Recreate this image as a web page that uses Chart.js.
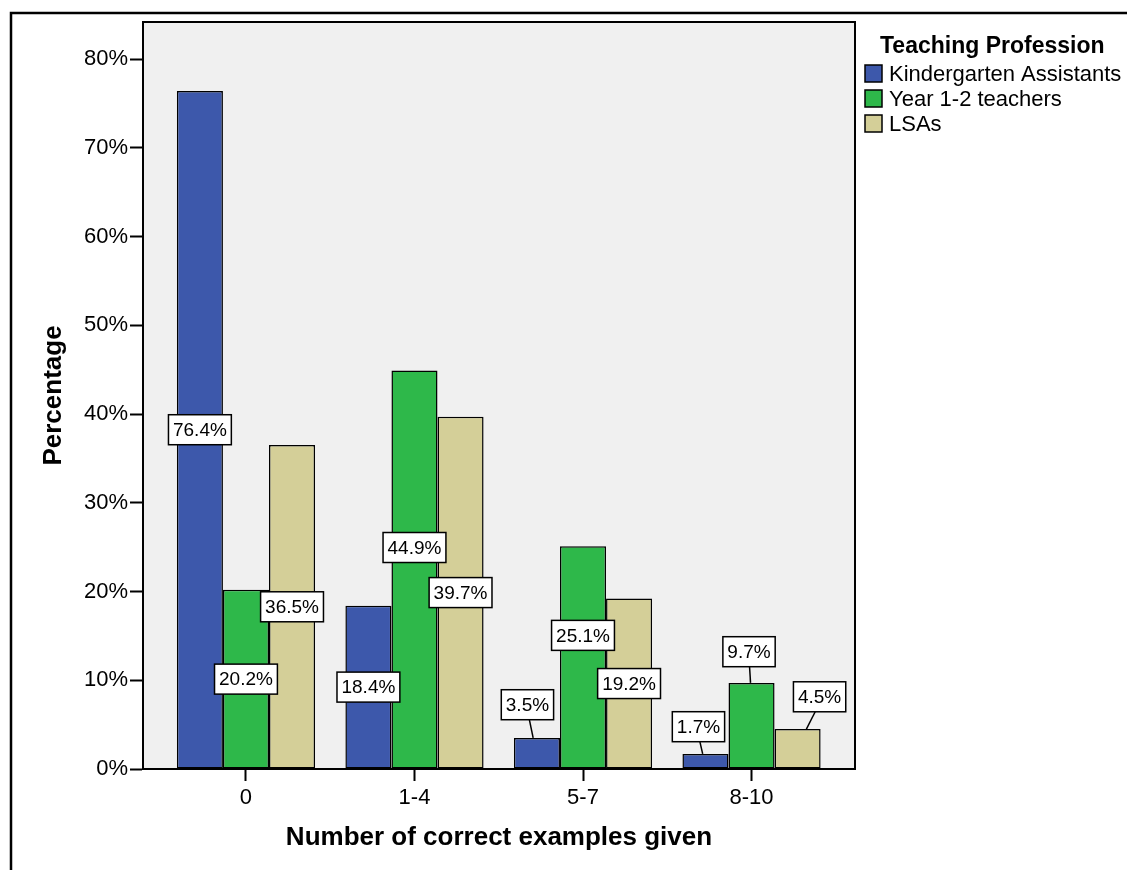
<!DOCTYPE html>
<html>
<head>
<meta charset="utf-8">
<script src="https://cdn.jsdelivr.net/npm/chart.js@4.4.1/dist/chart.umd.min.js"></script>
<style>
  html, body { margin: 0; padding: 0; background: #fff; }
  #wrap { width: 1127px; height: 870px; }
</style>
</head>
<body>
<div id="wrap"><canvas id="chart" width="1127" height="870"></canvas></div>
<script>
// data
const categories = ['0', '1-4', '5-7', '8-10'];
const seriesNames = ['Kindergarten Assistants', 'Year 1-2 teachers', 'LSAs'];
const kindergarten = [76.4, 18.4, 3.5, 1.7];
const year12 = [20.2, 44.9, 25.1, 9.7];
const lsas = [36.5, 39.7, 19.2, 4.5];
const yTicks = [0, 10, 20, 30, 40, 50, 60, 70, 80];

const FONT = "'Liberation Sans', Arial, sans-serif";
const colors = ['#3d58ab', '#2eb84a', '#d4cf98'];

const toPoints = arr => arr.map((v, i) => ({ x: i, y: v }));

// label nudges (px) for the labels SPSS moved off the bar middle; third item = leader line
const labelShift = {
  '0-2': [-9.5, -48.5, true],
  '0-3': [-7, -34.5, true],
  '1-3': [-2.5, -74, true],
  '2-3': [22, -52, true],
  '1-1': [0, -22, false],
  '1-2': [0, -22, false]
};

const sheet = {
  id: 'sheet',
  beforeDraw(chart) {
    const { ctx, chartArea: a } = chart;
    ctx.save();
    ctx.fillStyle = '#fff';
    ctx.fillRect(0, 0, chart.width, chart.height);
    // outer frame (cut by the picture edge)
    ctx.strokeStyle = '#000';
    ctx.lineWidth = 2.5;
    ctx.beginPath();
    ctx.moveTo(11, 870);
    ctx.lineTo(11, 13);
    ctx.lineTo(1127, 13);
    ctx.stroke();
    ctx.fillStyle = '#f0f0f0';
    ctx.fillRect(a.left, a.top, a.right - a.left, a.bottom - a.top);
    ctx.restore();
  },
  afterDatasetsDraw(chart) {
    const { ctx, chartArea: a } = chart;
    ctx.save();
    ctx.strokeStyle = '#000';
    ctx.lineWidth = 2;
    ctx.strokeRect(a.left, a.top, a.right - a.left, a.bottom - a.top);

    // value labels
    ctx.font = '19px ' + FONT;
    ctx.textAlign = 'center';
    ctx.textBaseline = 'middle';
    chart.data.datasets.forEach((ds, d) => {
      const meta = chart.getDatasetMeta(d);
      meta.data.forEach((bar, i) => {
        const s = labelShift[d + '-' + i] || [0, 0, false];
        const txt = ds.data[i].y.toFixed(1) + '%';
        const cx = bar.x + s[0];
        const cy = (bar.y + bar.base) / 2 + s[1];
        const w = ctx.measureText(txt).width + 9;
        const h = 30;
        if (s[2]) {
          ctx.lineWidth = 1.5;
          ctx.beginPath();
          ctx.moveTo(cx + (bar.x - cx) * 0.2, cy + h / 2);
          ctx.lineTo(cx + (bar.x - cx) * 0.6, bar.y);
          ctx.stroke();
        }
        ctx.fillStyle = '#fff';
        ctx.fillRect(cx - w / 2, cy - h / 2, w, h);
        ctx.lineWidth = 1.5;
        ctx.strokeRect(cx - w / 2, cy - h / 2, w, h);
        ctx.fillStyle = '#000';
        ctx.fillText(txt, cx, cy + 1);
      });
    });
    ctx.restore();
  },
  afterDraw(chart) {
    const { ctx, chartArea: a } = chart;
    ctx.save();
    ctx.fillStyle = '#000';
    // axis titles
    ctx.font = 'bold 26px ' + FONT;
    ctx.textAlign = 'center';
    ctx.textBaseline = 'middle';
    ctx.fillText('Number of correct examples given', (a.left + a.right) / 2, 838);
    ctx.translate(54, (a.top + a.bottom) / 2);
    ctx.rotate(-Math.PI / 2);
    ctx.fillText('Percentage', 0, 0);
    ctx.restore();

    // legend
    ctx.save();
    ctx.textBaseline = 'middle';
    ctx.textAlign = 'left';
    ctx.fillStyle = '#000';
    ctx.font = 'bold 23px ' + FONT;
    ctx.fillText('Teaching Profession', 880, 47);
    ctx.font = '22px ' + FONT;
    chart.data.datasets.forEach((ds, d) => {
      const y = 74 + d * 25;
      ctx.fillStyle = ds.backgroundColor;
      ctx.fillRect(865, y - 9, 17, 17);
      ctx.strokeStyle = '#000';
      ctx.lineWidth = 1.5;
      ctx.strokeRect(865, y - 9, 17, 17);
      ctx.fillStyle = '#000';
      ctx.fillText(ds.label, 889, y + 1);
    });
    ctx.restore();
  }
};

new Chart(document.getElementById('chart'), {
  type: 'bar',
  data: {
    datasets: [
      { label: seriesNames[0], data: toPoints(kindergarten), backgroundColor: colors[0] },
      { label: seriesNames[1], data: toPoints(year12), backgroundColor: colors[1] },
      { label: seriesNames[2], data: toPoints(lsas), backgroundColor: colors[2] }
    ]
  },
  options: {
    responsive: false,
    animation: false,
    layout: { padding: { top: 22, right: 272, left: 0, bottom: 0 } },
    datasets: {
      bar: {
        borderColor: '#000',
        borderWidth: 1.5,
        borderSkipped: false,
        categoryPercentage: 0.82,
        barPercentage: 1
      }
    },
    plugins: {
      legend: { display: false },
      tooltip: { enabled: false }
    },
    scales: {
      x: {
        type: 'linear',
        offset: false,
        min: -0.611,
        max: 3.614,
        afterBuildTicks: s => { s.ticks = categories.map((c, i) => ({ value: i })); },
        afterFit: s => { s.height = 101; },
        ticks: {
          callback: v => categories[v],
          color: '#000',
          font: { family: FONT, size: 22 },
          padding: 4,
          maxRotation: 0
        },
        grid: { offset: false, drawOnChartArea: false, drawTicks: true, tickLength: 12, tickColor: '#000', tickWidth: 2 },
        border: { display: true, color: '#000', width: 2 }
      },
      y: {
        min: 0,
        max: 84.17,
        afterBuildTicks: s => { s.ticks = yTicks.map(v => ({ value: v })); },
        afterFit: s => { s.width = 143; },
        ticks: {
          callback: v => v + '%',
          color: '#000',
          font: { family: FONT, size: 22 },
          padding: 2
        },
        grid: { drawOnChartArea: false, drawTicks: true, tickLength: 13, tickColor: '#000', tickWidth: 2 },
        border: { display: true, color: '#000', width: 2 }
      }
    }
  },
  plugins: [sheet]
});
</script>
</body>
</html>
